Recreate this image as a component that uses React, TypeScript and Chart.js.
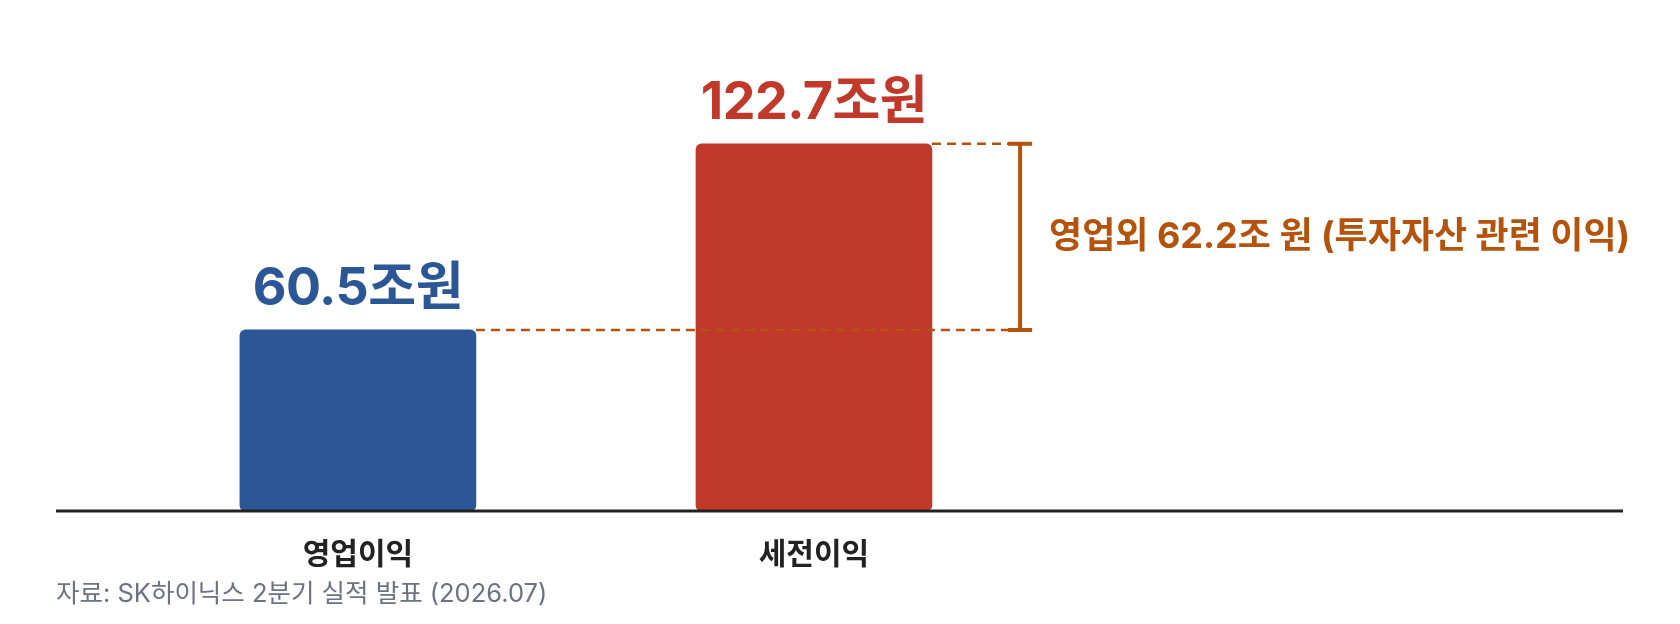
import React, { useEffect, useRef } from "react";
import { Chart, registerables } from "chart.js";

Chart.register(...registerables);

// data
const categories = ["영업이익", "세전이익"];
const values = [60.5, 122.7];
const valueLabels = ["60.5조원", "122.7조원"];
const gapLabel = "영업외 62.2조 원 (투자자산 관련 이익)";
const sourceNote = "자료: SK하이닉스 2분기 실적 발표 (2026.07)";

// styles
const barColors = ["#2B5797", "#C0392B"];
const accent = "#B4540C";
const FONT = "Inter, 'Noto Sans CJK KR', sans-serif";
const bracketAt = 1.452; // x position of the bracket, in category units

const annotate = {
    id: "annotate",
    afterDatasetsDraw(chart: any) {
        const { ctx, chartArea, scales } = chart;
        const bars = chart.getDatasetMeta(0).data;
        const base = scales.y.getPixelForValue(0);

        ctx.save();
        // baseline
        ctx.strokeStyle = "#222";
        ctx.lineWidth = 3;
        ctx.beginPath();
        ctx.moveTo(chartArea.left, base);
        ctx.lineTo(chartArea.right, base);
        ctx.stroke();

        // value labels
        ctx.font = `bold 52px ${FONT}`;
        ctx.textAlign = "center";
        ctx.textBaseline = "alphabetic";
        (ctx as any).letterSpacing = "-0.5px";
        bars.forEach((bar: any, i: number) => {
            ctx.fillStyle = barColors[i];
            ctx.fillText(valueLabels[i], bar.x, bar.y - 25);
        });
        (ctx as any).letterSpacing = "0px";

        // dashed guides + bracket
        const bx = scales.x.getPixelForValue(bracketAt);
        const lo = bars[0];
        const hi = bars[1];
        ctx.strokeStyle = accent;
        ctx.lineWidth = 2.5;
        ctx.setLineDash([9, 6]);
        ctx.beginPath();
        ctx.moveTo(hi.x + hi.width / 2, hi.y);
        ctx.lineTo(bx, hi.y);
        ctx.moveTo(lo.x + lo.width / 2, lo.y);
        ctx.lineTo(bx, lo.y);
        ctx.stroke();
        ctx.setLineDash([]);

        ctx.lineWidth = 4;
        ctx.beginPath();
        ctx.moveTo(bx, hi.y);
        ctx.lineTo(bx, lo.y);
        ctx.moveTo(bx - 12, hi.y);
        ctx.lineTo(bx + 12, hi.y);
        ctx.moveTo(bx - 12, lo.y);
        ctx.lineTo(bx + 12, lo.y);
        ctx.stroke();

        ctx.fillStyle = accent;
        ctx.font = `bold 36px ${FONT}`;
        ctx.textAlign = "left";
        ctx.textBaseline = "middle";
        ctx.fillText(gapLabel, bx + 29, (hi.y + lo.y) / 2);
        ctx.restore();
    },
};

const App: React.FC = () => {
    const chartRef = useRef<HTMLCanvasElement | null>(null);

    useEffect(() => {
        document.body.style.margin = "0";
        if (!chartRef.current) return;
        const ctx = chartRef.current.getContext("2d");
        if (!ctx) return;

        const chart = new Chart(ctx, {
            type: "bar",
            data: {
                datasets: [
                    {
                        data: values.map((v, i) => ({ x: i, y: v })),
                        backgroundColor: barColors,
                        borderRadius: 6,
                        borderSkipped: false,
                        barThickness: 236,
                    },
                ],
            },
            options: {
                animation: false,
                responsive: true,
                maintainAspectRatio: false,
                layout: { padding: { top: 62, left: 56, right: 57, bottom: 0 } },
                plugins: {
                    legend: { display: false },
                    tooltip: { enabled: false },
                },
                scales: {
                    x: {
                        type: "linear",
                        min: -0.662,
                        max: 2.774,
                        offset: false,
                        bounds: "data",
                        grid: { display: false, drawTicks: false, offset: false },
                        border: { display: false },
                        afterBuildTicks: (scale: any) => {
                            scale.ticks = categories.map((_, i) => ({ value: i }));
                        },
                        afterFit: (scale: any) => {
                            scale.height = 113;
                        },
                        ticks: {
                            autoSkip: false,
                            maxRotation: 0,
                            padding: 26,
                            color: "#222",
                            font: { family: FONT, size: 30, weight: "bold" },
                            callback: (v: any) => categories[v] ?? "",
                        },
                    },
                    y: {
                        min: 0,
                        max: 150,
                        display: false,
                    },
                },
            },
            plugins: [annotate],
        } as any);

        return () => {
            chart.destroy();
        };
    }, []);

    return (
        <div style={{ position: "relative", width: 1680, height: 624 }}>
            <canvas ref={chartRef}></canvas>
            <div
                style={{
                    position: "absolute",
                    left: 56,
                    top: 579,
                    fontFamily: FONT,
                    fontSize: 25.5,
                    lineHeight: "28px",
                    color: "#6B7280",
                }}
            >
                {sourceNote}
            </div>
        </div>
    );
};

export default App;
